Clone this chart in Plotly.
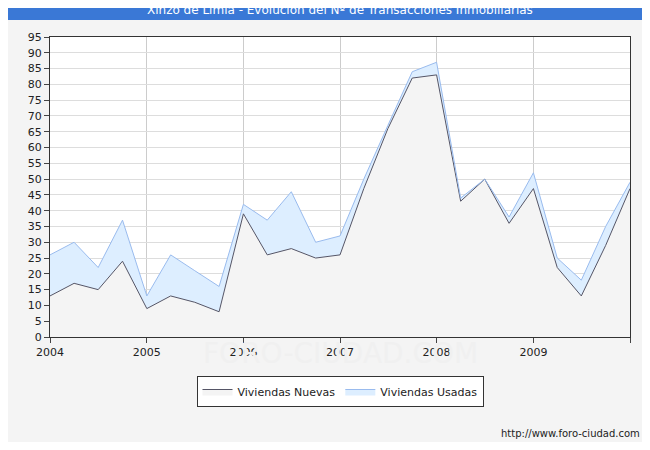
import plotly.graph_objects as go

fechas = ["2004-01-01", "2004-04-01", "2004-07-01", "2004-10-01",
          "2005-01-01", "2005-04-01", "2005-07-01", "2005-10-01",
          "2006-01-01", "2006-04-01", "2006-07-01", "2006-10-01",
          "2007-01-01", "2007-04-01", "2007-07-01", "2007-10-01",
          "2008-01-01", "2008-04-01", "2008-07-01", "2008-10-01",
          "2009-01-01", "2009-04-01", "2009-07-01", "2009-10-01",
          "2010-01-01"]
nuevas = [13, 17, 15, 24, 9, 13, 11, 8, 39, 26, 28, 25, 26, 47, 66, 82,
          83, 43, 50, 36, 47, 22, 13, 29, 47]
total = [26, 30, 22, 37, 13, 26, 21, 16, 42, 37, 46, 30, 32, 50, 67, 84,
         87, 44, 50, 38, 52, 25, 18, 35, 49]
usadas = [t - n for t, n in zip(total, nuevas)]

fig = go.Figure()
fig.add_trace(go.Scatter(x=fechas, y=nuevas, name="Viviendas Nuevas", stackgroup="a",
                         mode="lines", line=dict(color="#555566", width=1),
                         fillcolor="#f4f4f4"))
fig.add_trace(go.Scatter(x=fechas, y=usadas, name="Viviendas Usadas", stackgroup="a",
                         mode="lines", line=dict(color="#99bbee", width=1),
                         fillcolor="#ddeeff"))

fig.update_layout(
    width=634, height=434,
    paper_bgcolor="#f4f4f4", plot_bgcolor="white",
    margin=dict(l=42, r=12, t=29, b=105),
    font=dict(family="DejaVu Sans", size=11, color="#222"),
    showlegend=True,
    legend=dict(orientation="h", x=0.5, xanchor="center", y=-0.13, yanchor="top",
                bgcolor="white", bordercolor="#333", borderwidth=1, traceorder="normal"),
    shapes=[dict(type="rect", xref="paper", yref="paper", x0=-0.09, x1=1.04,
                 y0=1.057, y1=1.2, fillcolor="#3a78d6", line=dict(width=0), layer="below")],
    annotations=[
        dict(text="Xinzo de Limia - Evolucion del Nº de Transacciones Inmobiliarias",
             xref="paper", yref="paper", x=0.5, y=1.09, yanchor="middle", showarrow=False,
             font=dict(color="white", size=12)),
        dict(text="http://www.foro-ciudad.com", xref="paper", yref="paper", x=1.02, y=-0.32,
             xanchor="right", yanchor="middle", showarrow=False, font=dict(size=10)),
        dict(text="FORO-CIUDAD.COM", xref="paper", yref="paper", x=0.5, y=-0.055,
             yanchor="middle", showarrow=False, font=dict(size=28, color="#f0f0f0")),
    ],
)
fig.update_xaxes(range=["2004-01-01", "2010-01-01"], dtick="M12", tickformat="%Y",
                 showgrid=True, gridcolor="#cccccc", linecolor="#333", showline=True,
                 mirror=True, ticks="outside")
fig.update_yaxes(range=[0, 95], dtick=5, showgrid=True, gridcolor="#dddddd",
                 linecolor="#333", showline=True, mirror=True, ticks="outside")

fig.write_html("out.html")
